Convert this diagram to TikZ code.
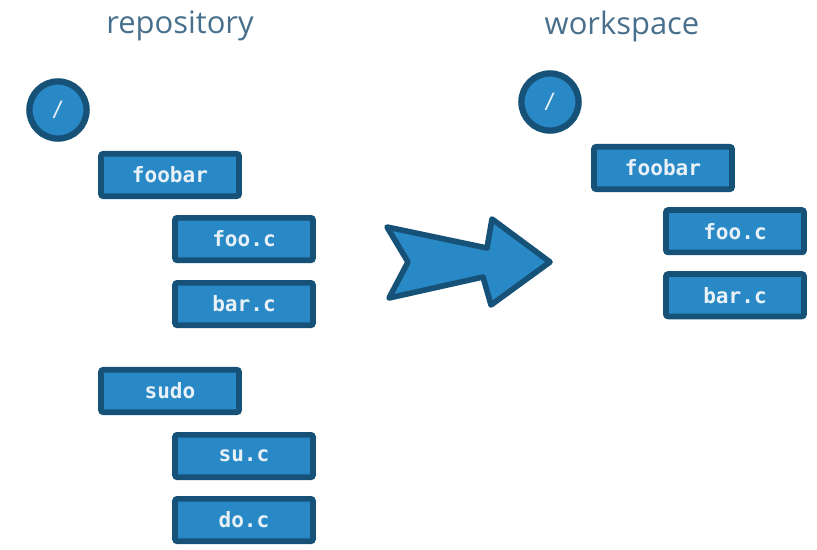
\documentclass[tikz,border=0pt]{standalone}
\usepackage{fontspec}
\setmainfont{Open Sans}
\setmonofont{DejaVu Sans Mono}
\usetikzlibrary{positioning}

\definecolor{boxblue}{RGB}{41,137,198}
\definecolor{boxedge}{RGB}{22,82,120}
\definecolor{titleblue}{RGB}{72,112,140}
\definecolor{labelwhite}{RGB}{232,241,247}

\begin{document}
\begin{tikzpicture}[
					file/.style={rectangle, rounded corners=1.5pt, fill=boxblue, draw=boxedge, line width=4pt, minimum width=3.45cm, minimum height=1.06cm, text=labelwhite, font=\ttfamily\bfseries\fontsize{15}{18}\selectfont},
					root/.style={circle, fill=boxblue, draw=boxedge, line width=4.5pt, minimum size=1.43cm, inner sep=0pt, text=labelwhite, font=\ttfamily\fontsize{15}{18}\selectfont},
					title/.style={anchor=base, text=titleblue, font=\fontsize{22}{26}\selectfont}
				]
				\useasboundingbox (0,0) rectangle (20.425,-13.725);
				% repository side
				\node[title] (repotitle) at (4.5,-0.83) {repository};
				\node[root] (reporoot) at (1.45,-2.75) {/};
				\node[file] (repofoobar) at (4.25,-4.375) {foobar};
				\node[file] (repofooc) [below=0.4cm of repofoobar.south west, anchor=north west, xshift=1.85cm] {foo.c};
				\node[file] (repobarc) [below=0.425cm of repofooc] {bar.c};
				\node[file] (reposudo) at (4.25,-9.775) {sudo};
				\node[file] (reposuc) [below=0.425cm of reposudo.south west, anchor=north west, xshift=1.85cm] {su.c};
				\node[file] (repodoc) [below=0.4cm of reposuc] {do.c};
				% workspace side
				\node[title] (wstitle) at (15.55,-0.85) {workspace};
				\node[root] (wsroot) at (13.75,-2.55) {/};
				\node[file] (wsfoobar) at (16.575,-4.2) {foobar};
				\node[file] (wsfooc) [below=0.38cm of wsfoobar.south west, anchor=north west, xshift=1.8cm] {foo.c};
				\node[file] (wsbarc) [below=0.4cm of wsfooc] {bar.c};
				% big arrow
				\draw[fill=boxblue, draw=boxedge, line width=4pt, line join=round]
					(9.675,-5.675) -- (12.175,-6.2) -- (12.3,-5.475) -- (13.75,-6.55) -- (12.275,-7.625) -- (12.075,-6.925) -- (9.725,-7.45) -- (10.2,-6.55) -- cycle;
				\end{tikzpicture}
\end{document}
